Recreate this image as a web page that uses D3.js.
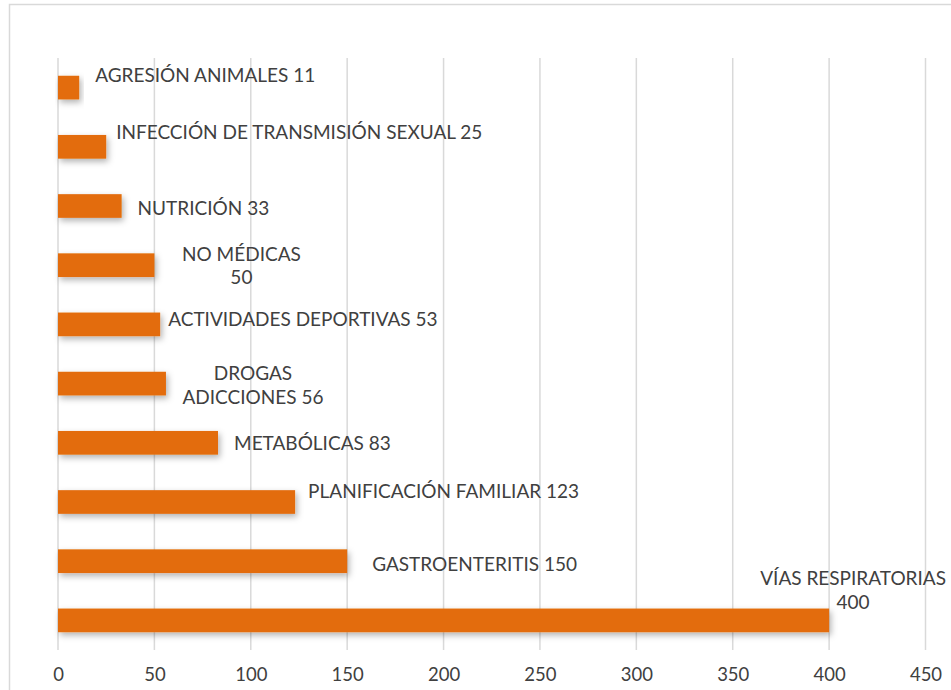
<!DOCTYPE html>
<html>
<head>
<meta charset="utf-8">
<script src="https://cdn.jsdelivr.net/npm/d3@7"></script>
<style>
  body { margin: 0; background: #fff; }
  svg { display: block; font-family: Lato, "Open Sans", sans-serif; }
</style>
</head>
<body>
<svg id="chart"></svg>
<script>
// categories top -> bottom
let categories = ['AGRESIÓN ANIMALES', 'INFECCIÓN DE TRANSMISIÓN SEXUAL', 'NUTRICIÓN', 'NO MÉDICAS',
  'ACTIVIDADES DEPORTIVAS', 'DROGAS ADICCIONES', 'METABÓLICAS', 'PLANIFICACIÓN FAMILIAR',
  'GASTROENTERITIS', 'VÍAS RESPIRATORIAS']
let values = [11, 25, 33, 50, 53, 56, 83, 123, 150, 400]
let xTicks = [0, 50, 100, 150, 200, 250, 300, 350, 400, 450]
// how each data label is split into lines
let labelLines = [
  ['AGRESIÓN ANIMALES 11'],
  ['INFECCIÓN DE TRANSMISIÓN SEXUAL 25'],
  ['NUTRICIÓN 33'],
  ['NO MÉDICAS', '50'],
  ['ACTIVIDADES DEPORTIVAS 53'],
  ['DROGAS', 'ADICCIONES 56'],
  ['METABÓLICAS 83'],
  ['PLANIFICACIÓN FAMILIAR 123'],
  ['GASTROENTERITIS 150'],
  ['VÍAS RESPIRATORIAS', '400']
]

// layout: label offsets from bar end / bar centre (excel moved these by hand)
let nudges = [
  {dx: 16, dy: -12, anchor: 'start'},
  {dx: 10, dy: -14, anchor: 'start'},
  {dx: 16, dy: 2, anchor: 'start'},
  {dx: 87, dy: -11, anchor: 'middle'},
  {dx: 8, dy: -5, anchor: 'start'},
  {dx: 87, dy: -10, anchor: 'middle'},
  {dx: 16, dy: 1, anchor: 'start'},
  {dx: 13, dy: -11, anchor: 'start'},
  {dx: 25, dy: 3, anchor: 'start'},
  {dx: 24, dy: -42, anchor: 'middle'}
]

let width = 951
let height = 690
let margin = {top: 58, right: 25.5, bottom: 40, left: 58}
let lineGap = 23.5
let barColor = '#e36c0a'
let textColor = '#404040'
let gridColor = '#d9d9d9'

let svg = d3.select('#chart')
  .attr('width', width)
  .attr('height', height)

let defs = svg.append('defs')
let shadow = defs.append('filter')
  .attr('id', 'shadow')
  .attr('x', '-10%').attr('y', '-50%')
  .attr('width', '130%').attr('height', '250%')
shadow.append('feDropShadow')
  .attr('dx', 2).attr('dy', 3)
  .attr('stdDeviation', 3)
  .attr('flood-color', '#000')
  .attr('flood-opacity', 0.3)

// outer chart border
svg.append('rect')
  .attr('x', 9.5).attr('y', 4.5)
  .attr('width', width + 20).attr('height', height + 20)
  .attr('fill', 'none')
  .attr('stroke', gridColor)
  .attr('stroke-width', 1.5)

let x = d3.scaleLinear()
  .domain([0, 450])
  .range([margin.left, width - margin.right])

let y = d3.scaleBand()
  .domain(categories)
  .range([margin.top, height - margin.bottom])
  .paddingInner(0.6)
  .paddingOuter(0.3)

// vertical gridlines
svg.append('g')
  .selectAll('line')
  .data(xTicks)
  .enter()
  .append('line')
  .attr('x1', d => x(d))
  .attr('x2', d => x(d))
  .attr('y1', margin.top)
  .attr('y2', height - margin.bottom)
  .attr('stroke', gridColor)
  .attr('stroke-width', 1.5)

// x axis labels
let xAxis = d3.axisBottom(x)
  .tickValues(xTicks)
  .tickSize(0)
  .tickPadding(18)
let axisG = svg.append('g')
  .attr('transform', `translate(0,${height - margin.bottom})`)
  .call(xAxis)
axisG.select('.domain').remove()
axisG.selectAll('text')
  .attr('fill', textColor)
  .style('font-size', '18.5px')
  .style('font-family', 'Lato, "Open Sans", sans-serif')

// bars
svg.append('g')
  .selectAll('rect')
  .data(categories)
  .enter()
  .append('rect')
  .attr('x', x(0))
  .attr('y', d => y(d))
  .attr('width', (d, i) => x(values[i]) - x(0))
  .attr('height', y.bandwidth())
  .attr('fill', barColor)
  .attr('filter', 'url(#shadow)')

// data labels
let labels = svg.append('g')
  .selectAll('text')
  .data(categories)
  .enter()
  .append('text')
  .attr('text-anchor', (d, i) => nudges[i].anchor)
  .attr('fill', textColor)
  .style('font-size', '19px')
  .attr('transform', (d, i) => {
    let lx = x(values[i]) + nudges[i].dx
    let ly = y(d) + y.bandwidth() / 2 + nudges[i].dy
    return `translate(${lx},${ly})`
  })

labels.each(function (d, i) {
  let lines = labelLines[i]
  let t = d3.select(this)
  lines.forEach((line, j) => {
    t.append('tspan')
      .attr('x', 0)
      .attr('y', j * lineGap)
      .attr('dy', '0.35em')
      .text(line)
  })
})
</script>
</body>
</html>
